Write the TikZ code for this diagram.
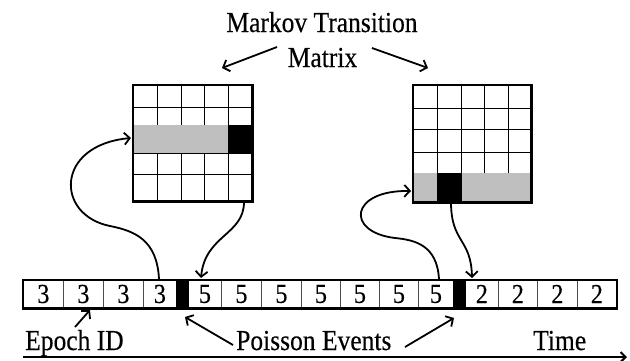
\documentclass[tikz,border=0pt]{standalone}
\usepackage{fontspec}
\setmainfont[FakeStretch=0.88,FakeBold=0.3]{Liberation Serif}
\usetikzlibrary{arrows.meta}
\begin{document}
\begin{tikzpicture}[x=1pt,y=-1pt,
  bigtext/.style={font=\fontsize{29}{32}\selectfont},
  digtext/.style={font=\fontsize{27.5}{30}\selectfont},
  lbl/.style={bigtext, inner sep=0pt, anchor=base west},
  cell/.style={draw=black!70, line width=0.8pt, minimum height=28pt, inner sep=0pt, anchor=west, digtext},
  evt/.style={fill=black, draw=black, line width=0.8pt, minimum height=28pt, inner sep=0pt, anchor=west},
  matbox/.style={fill=white, inner sep=0pt, anchor=north west},
  grid/.style={line width=0.9pt, black},
  border/.style={line width=2.2pt, black},
  hl/.style={fill=black!25},
  arr/.style={line width=1.8pt, -{Straight Barb[length=5.5pt,width=12pt]}},
  curv/.style={line width=1.8pt, -{Straight Barb[length=5.5pt,width=12pt]}}
]
\useasboundingbox (0,0) rectangle (630,360);

% ---- epoch strip ----
\foreach \l/\r/\t [count=\i] in {23/63/3,63/103/3,103/143/3,143/176/3,
    188/221/5,221/261/5,261/301/5,301/340/5,340/379/5,379/418/5,418/453/5,
    465/498/2,498/537/2,537/577/2,577/616/2}
  \node[cell, minimum width={(\r-\l)*1pt}] (c\i) at (\l,294) {\t};
\node[evt, minimum width=12pt] (e1) at (176,294) {};
\node[evt, minimum width=12pt] (e2) at (453,294) {};
\draw[border] (c1.north west) rectangle (c15.south east);

% ---- left matrix ----
\node[matbox, minimum width=119pt, minimum height=116pt] (m1) at (133,85) {};
\foreach \x in {157,181,204,228} \draw[grid] (\x,85) -- (\x,201);
\foreach \y in {107,125,153,174} \draw[grid] (133,\y) -- (252,\y);
\fill[hl] (133,125) rectangle (228,153);
\fill[black] (228,125) rectangle (252,153);
\draw[border] (m1.north west) rectangle (m1.south east);

% ---- right matrix ----
\node[matbox, minimum width=118pt, minimum height=117pt] (m2) at (413,85) {};
\foreach \x in {437,461,484,508} \draw[grid] (\x,85) -- (\x,202);
\foreach \y in {108,129,152,173} \draw[grid] (413,\y) -- (531,\y);
\fill[hl] (413,173) rectangle (531,202);
\fill[black] (437,173) rectangle (462,202);
\draw[border] (m2.north west) rectangle (m2.south east);

% ---- labels ----
\node[lbl, anchor=base] (mk1) at (322,32) {Markov Transition};
\node[lbl, anchor=base] (mk2) at (322.5,67) {Matrix};
\node[lbl] (epoch) at (25,350) {Epoch ID};
\node[lbl] (poisson) at (236,350) {Poisson Events};
\node[lbl] (time) at (533,350) {Time};

% ---- coordinates for connector ends ----
\coordinate (mkL) at (277,47);
\coordinate (mkLe) at (222,68);
\coordinate (mkR) at (372,48);
\coordinate (mkRe) at (428,68);
\coordinate (epS) at (75,327);
\coordinate (epE) at (90,310);
\coordinate (poL) at (233,345);
\coordinate (poLe) at (185,317);
\coordinate (poR) at (405,347);
\coordinate (poRe) at (454,318);
\coordinate (axS) at (23,357);
\coordinate (axE) at (627,357);

\draw[arr] (mkL) -- (mkLe);
\draw[arr] (mkR) -- (mkRe);
\draw[arr] (epS) -- (epE);
\draw[arr] (poL) -- (poLe);
\draw[arr] (poR) -- (poRe);
\draw[line width=2pt, -{Straight Barb[length=5pt,width=10pt]}] (axS) -- (axE);

% ---- curved connectors ----
\coordinate (u1s) at (159,279);
\coordinate (u1m) at (110,226);
\coordinate (u1e) at (131,138);
\draw[curv] (u1s) .. controls (157,240) and (135,231) .. (u1m)
  .. controls (55,215) and (55,145) .. (u1e);

\coordinate (d1s) at (244,202);
\coordinate (d1e) at (201,278);
\draw[curv] (d1s) .. controls (244,235) and (205,235) .. (d1e);

\coordinate (u2s) at (439,279);
\coordinate (u2m) at (395,238);
\coordinate (u2e) at (411,191);
\draw[curv] (u2s) .. controls (437,245) and (415,240) .. (u2m)
  .. controls (345,232) and (350,190) .. (u2e);

\coordinate (d2s) at (451,202);
\coordinate (d2e) at (472,278);
\draw[curv] (d2s) .. controls (451,243) and (471,238) .. (d2e);
\end{tikzpicture}
\end{document}
